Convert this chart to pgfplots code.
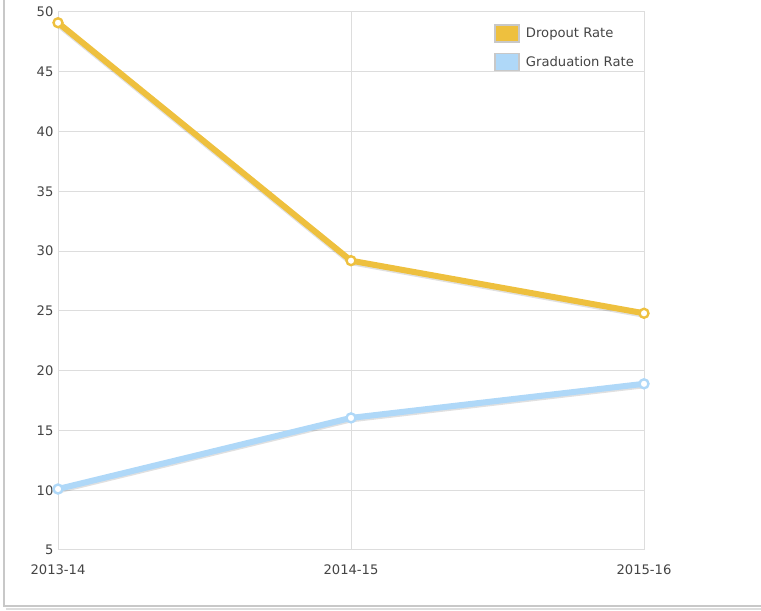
\documentclass[border=0pt]{standalone}
\usepackage{pgfplots}
\pgfplotsset{compat=1.18}
\usepackage{fontspec}
\setmainfont{DejaVu Sans}
\definecolor{dropc}{HTML}{EEC03E}
\definecolor{gradc}{HTML}{AFD8F8}
\definecolor{gridc}{HTML}{DDDDDD}
\definecolor{framec}{HTML}{C8C8C8}
\definecolor{txtc}{HTML}{444444}

\begin{document}
\begin{tikzpicture}[x=1bp,y=1bp]
\useasboundingbox (0,0) rectangle (761,611);
% outer frame
\draw[framec, line width=1.5bp] (4,611) -- (4,5) -- (761,5);
\draw[gridc, line width=1.5bp] (6,2) -- (761,2);
\begin{axis}[
    at={(58bp,61bp)}, anchor=south west,
    scale only axis, width=586bp, height=538bp,
    xmin=0, xmax=2, ymin=5, ymax=50,
    xtick={0,1,2}, xticklabels={2013-14,2014-15,2015-16},
    ytick={5,10,...,50},
    grid=major,
    grid style={gridc, line width=1bp},
    axis line style={gridc, line width=1bp},
    major tick length=0pt,
    tick label style={font=\fontsize{13.2}{15}\selectfont, text=txtc},
    /pgf/number format/assume math mode=true,
    xticklabel style={yshift=-11bp},
    yticklabel style={xshift=-1bp},
    clip=false,
    legend style={at={(0.744,0.978)}, anchor=north west, draw=none, fill=none,
        inner sep=0pt, row sep=10bp,
        font=\fontsize{13.2}{15}\selectfont, text=txtc,
        nodes={inner sep=1bp, anchor=west}},
    legend cell align=left,
]
% soft shadows under the lines
\addplot[black, opacity=0.12, line width=6bp, forget plot, yshift=-1.5bp]
    coordinates {(0,49.1) (1,29.2) (2,24.8)};
\addplot[black, opacity=0.12, line width=6bp, forget plot, yshift=-1.5bp]
    coordinates {(0,10.1) (1,16.05) (2,18.9)};
\addplot[dropc, line width=6bp, mark=*, mark size=4.5bp,
    mark options={fill=white, draw=dropc, line width=2.4bp},
    legend image code/.code={\draw[fill=dropc, draw=framec, line width=1.5bp] (0bp,-8.5bp) rectangle (24bp,8.5bp); \path (27bp,0bp);}]
    coordinates {(0,49.1) (1,29.2) (2,24.8)};
\addlegendentry{Dropout Rate}
\addplot[gradc, line width=6bp, mark=*, mark size=4.5bp,
    mark options={fill=white, draw=gradc, line width=2.4bp},
    legend image code/.code={\draw[fill=gradc, draw=framec, line width=1.5bp] (0bp,-8.5bp) rectangle (24bp,8.5bp); \path (27bp,0bp);}]
    coordinates {(0,10.1) (1,16.05) (2,18.9)};
\addlegendentry{Graduation Rate}
\end{axis}
\end{tikzpicture}
\end{document}
